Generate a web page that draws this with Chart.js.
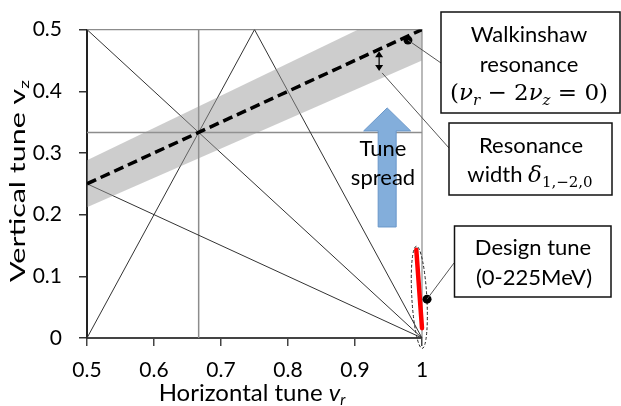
<!DOCTYPE html>
<html>
<head>
<meta charset="utf-8">
<script src="https://cdn.jsdelivr.net/npm/chart.js@4"></script>
<style>
  html, body { margin: 0; padding: 0; background: #fff; }
</style>
</head>
<body>
<canvas id="chart" width="621" height="406"></canvas>
<script>
// tick values
const xTicks = [0.5, 0.6, 0.7, 0.8, 0.9, 1];
const yTicks = [0, 0.1, 0.2, 0.3, 0.4, 0.5];

// resonance lines, start / end of each
const resX = [[0.5, 1], [0.5, 0.75], [0.75, 1], [0.5, 1]];
const resY = [[0.5, 0], [0, 0.5], [0.5, 0], [0.25, 0]];
// third-integer lines
const thirdX = [[2 / 3, 2 / 3], [0.5, 1]];
const thirdY = [[0, 0.5], [1 / 3, 1 / 3]];

// Walkinshaw resonance vr - 2vz = 0 and its width
const walkX = [0.5, 1];
const walkY = [0.25, 0.5];
const bandLow = [0.212, 0.45];
const bandHigh = [0.288, 0.55];

// design tune 0-225 MeV
const designX = [0.9915, 1.0];
const designY = [0.143, 0.016];
const designArea = [0.996, 0.066, 0.0112, 0.083]; // cx, cy, half width, half height

// marker points
const walkDot = [0.979, 0.483];
const designDot = [1.0075, 0.063];
const widthArrowX = 0.936;
const widthArrowY = [0.465, 0.433];
const spreadX = 0.948;
const spreadY = [0.18, 0.373];

const pts = (xs, ys) => xs.map((x, i) => ({ x: x, y: ys[i] }));
const lineSet = (xs, ys, color, width, extra) => Object.assign({
    data: pts(xs, ys),
    showLine: true,
    borderColor: color,
    borderWidth: width,
    pointRadius: 0,
    fill: false
}, extra || {});

let datasets = [];
resX.forEach((xs, i) => datasets.push(lineSet(xs, resY[i], '#333333', 1, { order: 10 })));
thirdX.forEach((xs, i) => datasets.push(lineSet(xs, thirdY[i], '#8c8c8c', 1.5, { order: 10 })));
datasets.push(lineSet(walkX, bandLow, 'rgba(0,0,0,0)', 1, { order: 5 }));
datasets.push(lineSet(walkX, bandHigh, 'rgba(0,0,0,0)', 1, { order: 5, fill: '-1', backgroundColor: 'rgba(150,150,150,0.48)' }));
datasets.push(lineSet(walkX, walkY, '#000000', 3.5, { order: 2, borderDash: [10, 5] }));
datasets.push(lineSet(designX, designY, '#ff0000', 4.5, { order: 1, clip: false, borderCapStyle: 'round' }));

const fmt = v => v === 0 ? '0' : String(Math.round(v * 10) / 10);

function richText(ctx, parts, cx, base) {
    let w = 0;
    parts.forEach(p => { ctx.font = p.f; p.w = ctx.measureText(p.t).width; w += p.w; });
    let x = cx - w / 2;
    ctx.textAlign = 'left';
    ctx.textBaseline = 'alphabetic';
    parts.forEach(p => { ctx.font = p.f; ctx.fillText(p.t, x, base + (p.dy || 0)); x += p.w; });
}

function box(ctx, x1, y1, x2, y2) {
    ctx.fillStyle = '#fff';
    ctx.fillRect(x1, y1, x2 - x1, y2 - y1);
    ctx.strokeStyle = '#111';
    ctx.lineWidth = 1.5;
    ctx.strokeRect(x1, y1, x2 - x1, y2 - y1);
}

function leader(ctx, x1, y1, x2, y2) {
    ctx.strokeStyle = '#555';
    ctx.lineWidth = 1;
    ctx.beginPath();
    ctx.moveTo(x1, y1);
    ctx.lineTo(x2, y2);
    ctx.stroke();
}

function dot(ctx, x, y) {
    ctx.fillStyle = '#000';
    ctx.beginPath();
    ctx.arc(x, y, 4.5, 0, Math.PI * 2);
    ctx.fill();
}

const T = '22px Lato';
const M = '23px "DejaVu Serif"';
const MI = 'italic 23px "DejaVu Serif"';
const MS = 'italic 15px "DejaVu Serif"';
const MS2 = '15px "DejaVu Serif"';

const annot = {
    id: 'annot',
    beforeDatasetsDraw(chart) {
        const { ctx, chartArea: a } = chart;
        ctx.save();
        ctx.strokeStyle = '#8c8c8c';
        ctx.lineWidth = 1.2;
        ctx.beginPath();
        ctx.moveTo(a.left, a.top);
        ctx.lineTo(a.right, a.top);
        ctx.lineTo(a.right, a.bottom);
        ctx.stroke();
        ctx.restore();
    },
    afterDraw(chart) {
        const { ctx } = chart;
        const sx = chart.scales.x, sy = chart.scales.y;
        const px = v => sx.getPixelForValue(v), py = v => sy.getPixelForValue(v);
        ctx.save();

        // tune spread arrow
        const cx = px(spreadX), yTail = py(spreadY[0]), yTip = py(spreadY[1]);
        const sw = 18, hw = 47, hl = 23;
        ctx.beginPath();
        ctx.moveTo(cx - sw / 2, yTail);
        ctx.lineTo(cx - sw / 2, yTip + hl);
        ctx.lineTo(cx - hw / 2, yTip + hl);
        ctx.lineTo(cx, yTip);
        ctx.lineTo(cx + hw / 2, yTip + hl);
        ctx.lineTo(cx + sw / 2, yTip + hl);
        ctx.lineTo(cx + sw / 2, yTail);
        ctx.closePath();
        ctx.fillStyle = '#83aedb';
        ctx.fill();
        ctx.strokeStyle = '#6a97c9';
        ctx.lineWidth = 1;
        ctx.stroke();
        ctx.fillStyle = '#000';
        ctx.font = T;
        ctx.textAlign = 'center';
        ctx.textBaseline = 'alphabetic';
        ctx.fillText('Tune', 383, 156);
        ctx.fillText('spread', 383, 185);

        // resonance width arrow
        const ax = px(widthArrowX), ay1 = py(widthArrowY[0]), ay2 = py(widthArrowY[1]);
        ctx.strokeStyle = '#000';
        ctx.lineWidth = 1.2;
        ctx.beginPath();
        ctx.moveTo(ax, ay1 + 4);
        ctx.lineTo(ax, ay2 - 4);
        ctx.stroke();
        ctx.fillStyle = '#000';
        ctx.beginPath();
        ctx.moveTo(ax, ay1); ctx.lineTo(ax - 4, ay1 + 6); ctx.lineTo(ax + 4, ay1 + 6); ctx.closePath();
        ctx.moveTo(ax, ay2); ctx.lineTo(ax - 4, ay2 - 6); ctx.lineTo(ax + 4, ay2 - 6); ctx.closePath();
        ctx.fill();

        // design tune dashed ellipse
        ctx.strokeStyle = '#222';
        ctx.lineWidth = 1;
        ctx.setLineDash([3, 2]);
        ctx.beginPath();
        ctx.ellipse(px(designArea[0]), py(designArea[1]),
            px(designArea[0] + designArea[2]) - px(designArea[0]),
            py(designArea[1]) - py(designArea[1] + designArea[3]), -0.057, 0, Math.PI * 2);
        ctx.stroke();
        ctx.setLineDash([]);

        // marker dots
        dot(ctx, px(walkDot[0]), py(walkDot[1]));
        dot(ctx, px(designDot[0]), py(designDot[1]));

        // leaders
        leader(ctx, px(walkDot[0]), py(walkDot[1]), 441, 63);
        leader(ctx, ax + 3, ay2 + 2, 449, 148);
        leader(ctx, px(designDot[0]), py(designDot[1]), 454, 263);

        // boxes
        box(ctx, 441, 12, 620, 113);
        box(ctx, 449, 123, 612, 195);
        box(ctx, 454.5, 226, 611, 297);

        ctx.fillStyle = '#000';
        ctx.font = T;
        ctx.textAlign = 'center';
        ctx.fillText('Walkinshaw', 529, 42);
        ctx.fillText('resonance', 529, 72);
        richText(ctx, [
            { t: '(', f: M }, { t: 'ν', f: MI }, { t: 'r', f: MS, dy: 5 },
            { t: ' − 2', f: M }, { t: 'ν', f: MI }, { t: 'z', f: MS, dy: 5 },
            { t: ' = 0)', f: M }
        ], 529, 100);

        ctx.font = T;
        ctx.textAlign = 'center';
        ctx.fillText('Resonance', 531, 153);
        richText(ctx, [
            { t: 'width ', f: T }, { t: 'δ', f: MI }, { t: '1,−2,0', f: MS2, dy: 5 }
        ], 530, 182);

        ctx.font = T;
        ctx.textAlign = 'center';
        ctx.fillText('Design tune', 533, 255);
        ctx.fillText('(0-225MeV)', 534, 285);

        // axis titles
        richText(ctx, [
            { t: 'Horizontal tune ', f: '24px Lato' }, { t: 'v', f: 'italic 24px Lato' },
            { t: 'r', f: 'italic 15px Lato', dy: 4 }
        ], 252, 401);

        ctx.save();
        ctx.translate(25, 181);
        ctx.rotate(-Math.PI / 2);
        const yParts = [{ t: 'Vertical tune v', f: '22px Lato' }, { t: 'z', f: '14px Lato', dy: 4 }];
        let w = 0;
        yParts.forEach(p => { ctx.font = p.f; w += ctx.measureText(p.t).width; });
        ctx.scale(202 / w, 1);
        richText(ctx, yParts, 0, 0);
        ctx.restore();

        ctx.restore();
    }
};

let ctx = document.getElementById('chart');

let grafica = new Chart(ctx, {
    type: 'scatter',
    data: { datasets: datasets },
    options: {
        responsive: false,
        animation: false,
        layout: { padding: { top: 19, right: 199, left: 0, bottom: 0 } },
        plugins: { legend: { display: false }, tooltip: { enabled: false } },
        scales: {
            x: {
                type: 'linear', min: 0.5, max: 1,
                afterBuildTicks: s => { s.ticks = xTicks.map(v => ({ value: v })); },
                afterFit: s => { s.height = 68; },
                grid: { drawOnChartArea: false, tickLength: 8, color: '#444', lineWidth: 1.5 },
                border: { color: '#444', width: 2 },
                ticks: { font: { family: 'Lato', size: 21 }, color: '#000', padding: 12, maxRotation: 0, autoSkip: false, callback: fmt }
            },
            y: {
                type: 'linear', min: 0, max: 0.5,
                afterBuildTicks: s => { s.ticks = yTicks.map(v => ({ value: v })); },
                afterFit: s => { s.width = 87; },
                grid: { drawOnChartArea: false, tickLength: 8, color: '#333', lineWidth: 1.5 },
                border: { color: '#222', width: 2 },
                ticks: { font: { family: 'Lato', size: 21 }, color: '#000', padding: 17, autoSkip: false, callback: fmt }
            }
        }
    },
    plugins: [annot]
});
</script>
</body>
</html>
